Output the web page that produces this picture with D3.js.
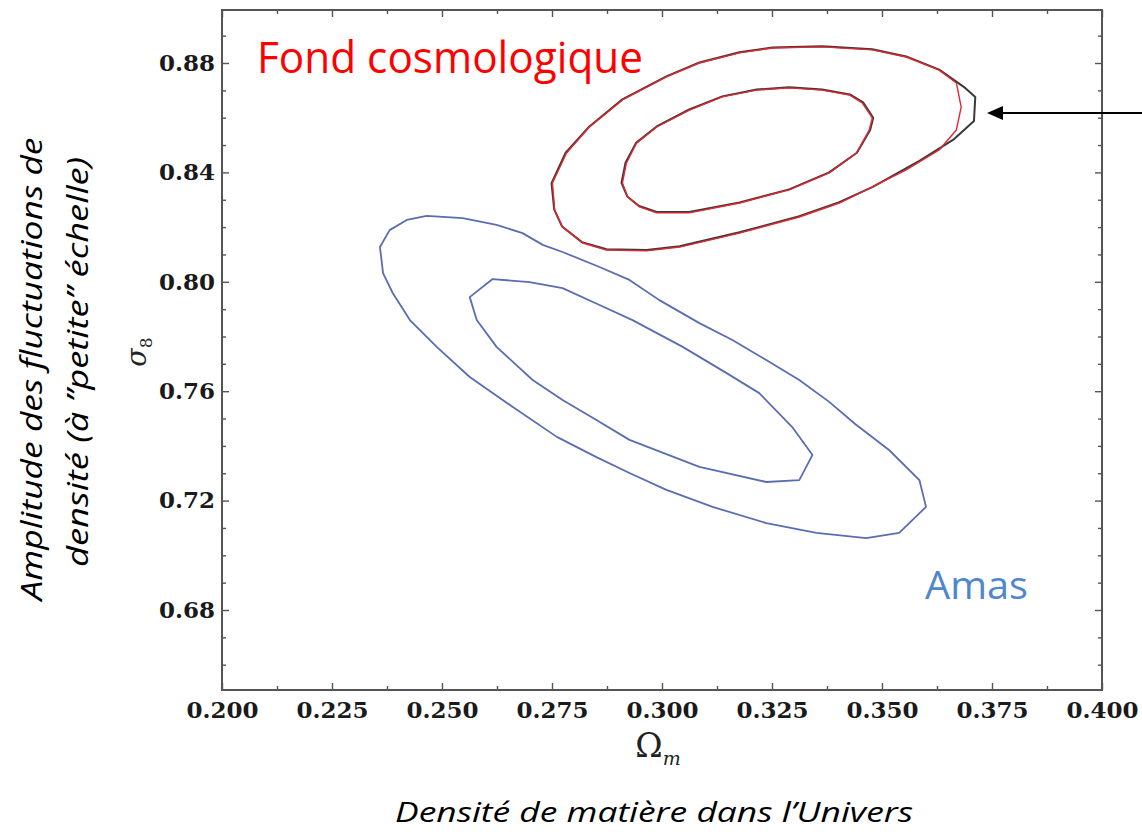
<!DOCTYPE html>
<meta charset="utf-8">
<script src="https://d3js.org/d3.v7.min.js"></script>
<style>
  body { margin: 0; background: #fff; }
</style>
<div id="chart"></div>
<script>

  // tick values
  var xTicks = [0.200, 0.225, 0.250, 0.275, 0.300, 0.325, 0.350, 0.375, 0.400];
  var xMinor = [0.2125, 0.2375, 0.2625, 0.2875, 0.3125, 0.3375, 0.3625, 0.3875];
  var yTicks = [0.68, 0.72, 0.76, 0.80, 0.84, 0.88];
  var yMinor = [0.66, 0.67, 0.69, 0.70, 0.71, 0.73, 0.74, 0.75, 0.77, 0.78, 0.79, 0.81, 0.82, 0.83, 0.85, 0.86, 0.87, 0.89];

  // CMB contours (black = reference, red = overlay)
  var cmbOuterX = [0.2751,0.2756,0.2774,0.2820,0.2874,0.2965,0.3040,0.3176,0.3312,0.3403,0.3478,0.3555,0.3630,0.3669,0.3680,0.3669,0.3630,0.3555,0.3478,0.3364,0.3251,0.3176,0.3085,0.3010,0.2910,0.2835,0.2783];
  var cmbOuterY = [0.8361,0.8263,0.8200,0.8142,0.8116,0.8113,0.8127,0.8178,0.8237,0.8288,0.8347,0.8409,0.8482,0.8555,0.8639,0.8727,0.8774,0.8822,0.8848,0.8859,0.8855,0.8837,0.8800,0.8749,0.8665,0.8566,0.8471];
  var blackOuterX = [0.2749,0.2755,0.2773,0.2818,0.2874,0.2965,0.3040,0.3176,0.3312,0.3403,0.3478,0.3585,0.3664,0.3709,0.3712,0.3689,0.3630,0.3555,0.3478,0.3364,0.3251,0.3176,0.3085,0.3010,0.2910,0.2835,0.2781];
  var blackOuterY = [0.8361,0.8264,0.8202,0.8145,0.8119,0.8116,0.8130,0.8181,0.8240,0.8291,0.8346,0.8442,0.8522,0.8588,0.8676,0.8709,0.8776,0.8824,0.8850,0.8861,0.8857,0.8839,0.8802,0.8751,0.8667,0.8568,0.8472];
  var cmbInnerX = [0.2910,0.2922,0.2949,0.2988,0.3062,0.3176,0.3289,0.3380,0.3442,0.3471,0.3478,0.3455,0.3426,0.3364,0.3289,0.3215,0.3137,0.3062,0.2988,0.2942,0.2919];
  var cmbInnerY = [0.8361,0.8310,0.8274,0.8252,0.8252,0.8288,0.8336,0.8398,0.8471,0.8555,0.8599,0.8654,0.8683,0.8701,0.8709,0.8701,0.8676,0.8628,0.8566,0.8507,0.8434];
  var blackInnerX = [0.2908,0.2921,0.2948,0.2988,0.3062,0.3176,0.3289,0.3380,0.3443,0.3473,0.3480,0.3457,0.3427,0.3364,0.3289,0.3215,0.3137,0.3062,0.2988,0.2941,0.2917];
  var blackInnerY = [0.8362,0.8312,0.8277,0.8255,0.8255,0.8290,0.8338,0.8400,0.8472,0.8555,0.8600,0.8656,0.8685,0.8703,0.8711,0.8703,0.8678,0.8630,0.8568,0.8508,0.8435];

  // cluster contours
  var amasOuterX = [0.2359,0.2381,0.2420,0.2465,0.2547,0.2624,0.2683,0.2729,0.2774,0.2858,0.2926,0.2994,0.3085,0.3160,0.3237,0.3312,0.3380,0.3439,0.3516,0.3585,0.3600,0.3539,0.3464,0.3351,0.3237,0.3115,0.3010,0.2926,0.2851,0.2761,0.2661,0.2563,0.2488,0.2427,0.2388,0.2366];
  var amasOuterY = [0.8127,0.8189,0.8226,0.8241,0.8233,0.8208,0.8178,0.8135,0.8109,0.8054,0.8007,0.7933,0.7849,0.7787,0.7714,0.7641,0.7561,0.7480,0.7385,0.7275,0.7177,0.7082,0.7063,0.7082,0.7118,0.7177,0.7239,0.7301,0.7359,0.7433,0.7542,0.7652,0.7762,0.7860,0.7959,0.8032];
  var amasInnerX = [0.2563,0.2615,0.2699,0.2774,0.2858,0.2933,0.3047,0.3146,0.3221,0.3296,0.3342,0.3312,0.3237,0.3085,0.2926,0.2851,0.2774,0.2706,0.2624,0.2579];
  var amasInnerY = [0.7944,0.8010,0.7999,0.7977,0.7915,0.7860,0.7762,0.7667,0.7593,0.7469,0.7367,0.7275,0.7268,0.7323,0.7422,0.7495,0.7568,0.7641,0.7762,0.7860];

  var width = 1142, height = 832;
  var plot = {left: 222, right: 1102, top: 10, bottom: 690};

  var svg = d3.select("#chart")
    .append("svg")
      .attr("width", width)
      .attr("height", height);

  var x = d3.scaleLinear()
    .domain([0.2, 0.4])
    .range([plot.left, plot.right]);

  var y = d3.scaleLinear()
    .domain([0.68, 0.88])
    .range([610, 63]);

  // frame
  svg.append("rect")
    .attr("x", plot.left)
    .attr("y", plot.top)
    .attr("width", plot.right - plot.left)
    .attr("height", plot.bottom - plot.top)
    .attr("fill", "none")
    .attr("stroke", "#555")
    .attr("stroke-width", 2);

  var tickFont = "'DejaVu Serif', serif";

  function styleAxis(g) {
    g.select(".domain").remove();
    g.selectAll(".tick line").attr("stroke", "#555").attr("stroke-width", 1.4);
    g.selectAll(".tick text")
      .attr("fill", "#1a1a1a")
      .style("font-family", tickFont)
      .style("font-weight", "bold")
      .style("font-size", "23px");
  }

  // major ticks with labels
  svg.append("g")
    .attr("transform", "translate(0," + plot.bottom + ")")
    .call(d3.axisBottom(x).tickValues(xTicks).tickSize(-7).tickPadding(12).tickFormat(d3.format(".3f")))
    .call(styleAxis);

  svg.append("g")
    .attr("transform", "translate(" + plot.left + ",0)")
    .call(d3.axisLeft(y).tickValues(yTicks).tickSize(-7).tickPadding(7).tickFormat(d3.format(".2f")))
    .call(styleAxis);

  // ticks on top and right, plus minor ticks everywhere
  svg.append("g")
    .attr("transform", "translate(0," + plot.top + ")")
    .call(d3.axisTop(x).tickValues(xTicks).tickSize(-7).tickFormat(""))
    .call(styleAxis);
  svg.append("g")
    .attr("transform", "translate(" + plot.right + ",0)")
    .call(d3.axisRight(y).tickValues(yTicks).tickSize(-7).tickFormat(""))
    .call(styleAxis);

  svg.append("g")
    .attr("transform", "translate(0," + plot.bottom + ")")
    .call(d3.axisBottom(x).tickValues(xMinor).tickSize(-4).tickFormat(""))
    .call(styleAxis);
  svg.append("g")
    .attr("transform", "translate(0," + plot.top + ")")
    .call(d3.axisTop(x).tickValues(xMinor).tickSize(-4).tickFormat(""))
    .call(styleAxis);
  svg.append("g")
    .attr("transform", "translate(" + plot.left + ",0)")
    .call(d3.axisLeft(y).tickValues(yMinor).tickSize(-4).tickFormat(""))
    .call(styleAxis);
  svg.append("g")
    .attr("transform", "translate(" + plot.right + ",0)")
    .call(d3.axisRight(y).tickValues(yMinor).tickSize(-4).tickFormat(""))
    .call(styleAxis);

  // contours
  var line = d3.line()
    .x(function(d) { return x(d[0]); })
    .y(function(d) { return y(d[1]); })
    .curve(d3.curveLinearClosed);

  function drawContour(xs, ys, color, w) {
    svg.append("path")
      .datum(d3.zip(xs, ys))
      .attr("d", line)
      .attr("fill", "none")
      .attr("stroke", color)
      .attr("stroke-width", w)
      .attr("stroke-linejoin", "round");
  }

  drawContour(amasOuterX, amasOuterY, "#5a6db0", 1.8);
  drawContour(amasInnerX, amasInnerY, "#5a6db0", 1.8);

  drawContour(blackOuterX, blackOuterY, "#3a3a3a", 2);
  drawContour(blackInnerX, blackInnerY, "#3a3a3a", 2);
  drawContour(cmbOuterX, cmbOuterY, "#e3262f", 1.4);
  drawContour(cmbInnerX, cmbInnerY, "#e3262f", 1.4);

  // axis symbols
  var omega = svg.append("text")
    .attr("x", x(0.3) - 4)
    .attr("y", 757)
    .attr("text-anchor", "middle")
    .style("font-family", "'DejaVu Serif', serif")
    .style("font-size", "33px")
    .attr("fill", "#222");
  omega.append("tspan").text("Ω");
  omega.append("tspan").attr("dy", 8).style("font-size", "19px").style("font-style", "italic").text("m");

  var sigma = svg.append("text")
    .attr("transform", "translate(146,352) rotate(-90)")
    .attr("text-anchor", "middle")
    .style("font-family", "'DejaVu Serif', serif")
    .style("font-size", "27px")
    .attr("fill", "#222");
  sigma.append("tspan").style("font-style", "italic").text("σ");
  sigma.append("tspan").attr("dy", 6).style("font-size", "17px").text("8");

  // annotations
  var sansFont = "'Open Sans', 'Noto Sans', sans-serif";

  svg.append("text")
    .attr("x", 257)
    .attr("y", 73)
    .attr("textLength", 386)
    .attr("lengthAdjust", "spacingAndGlyphs")
    .style("font-family", sansFont)
    .style("font-size", "43px")
    .attr("fill", "#ff0000")
    .text("Fond cosmologique");

  svg.append("text")
    .attr("x", 925)
    .attr("y", 599)
    .attr("textLength", 103)
    .attr("lengthAdjust", "spacingAndGlyphs")
    .style("font-family", sansFont)
    .style("font-size", "38px")
    .attr("fill", "#4f86cf")
    .text("Amas");

  svg.append("text")
    .attr("transform", "translate(42,369) rotate(-90)")
    .attr("text-anchor", "middle")
    .attr("textLength", 463)
    .attr("lengthAdjust", "spacingAndGlyphs")
    .style("font-family", sansFont)
    .style("font-style", "italic")
    .style("font-size", "29px")
    .attr("fill", "#000")
    .text("Amplitude des fluctuations de");

  svg.append("text")
    .attr("transform", "translate(88,362) rotate(-90)")
    .attr("text-anchor", "middle")
    .attr("textLength", 410)
    .attr("lengthAdjust", "spacingAndGlyphs")
    .style("font-family", sansFont)
    .style("font-style", "italic")
    .style("font-size", "29px")
    .attr("fill", "#000")
    .text("densité (à ”petite” échelle)");

  svg.append("text")
    .attr("x", 654)
    .attr("y", 822)
    .attr("text-anchor", "middle")
    .attr("textLength", 518)
    .attr("lengthAdjust", "spacingAndGlyphs")
    .style("font-family", sansFont)
    .style("font-style", "italic")
    .style("font-size", "28px")
    .attr("fill", "#000")
    .text("Densité de matière dans l’Univers");

  // arrow pointing at the black contour tip
  svg.append("line")
    .attr("x1", 1142).attr("y1", 113)
    .attr("x2", 1000).attr("y2", 113)
    .attr("stroke", "#000")
    .attr("stroke-width", 2);
  svg.append("path")
    .attr("d", "M987,113 L1003,106 L1003,120 Z")
    .attr("fill", "#000");

</script>
